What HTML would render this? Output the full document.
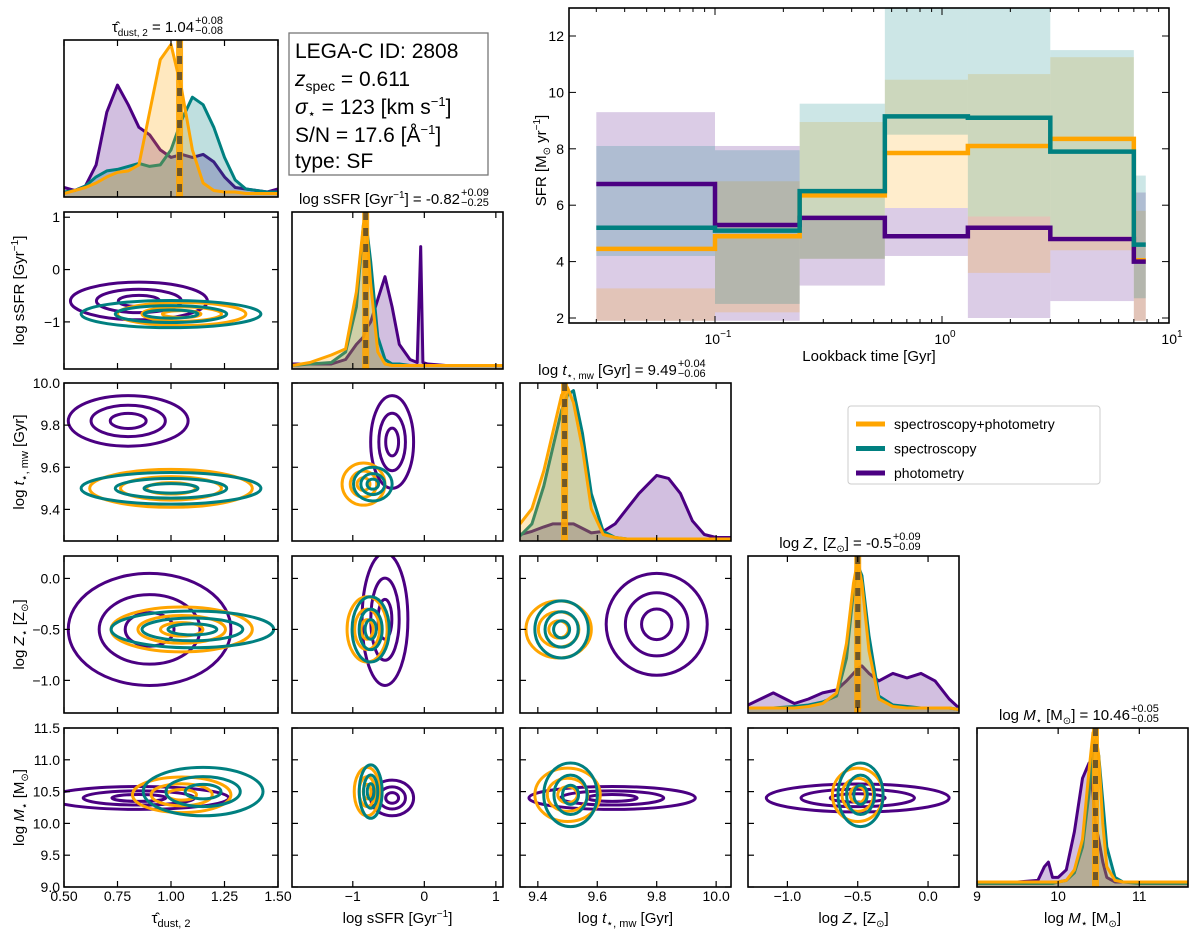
<!DOCTYPE html>
<html><head><meta charset="utf-8"><style>
body{margin:0;background:#fff;}
svg{display:block;font-family:"Liberation Sans",sans-serif;}
</style></head><body>
<svg id="fig" width="1200" height="936" viewBox="0 0 1200 936" xmlns="http://www.w3.org/2000/svg"></svg>
<script>
// ---------- data ----------
const seriesNames = ["spectroscopy+photometry","spectroscopy","photometry"];
const seriesColors = ["#FFA500","#008080","#4B0082"];
// SFH
const sfhEdges = [0.03,0.1,0.236,0.56,1.3,3.0,7.0,7.9];
const sfrOrange = [4.45,4.9,6.35,7.85,8.1,8.35,4.05];
const sfrTeal = [5.2,5.1,6.5,9.15,9.1,7.9,4.6];
const sfrPurple = [6.75,5.3,5.55,4.9,5.2,4.8,4.0];
const loOrange = [1.9,2.2,4.1,5.9,3.6,4.4,1.9];
const hiOrange = [3.05,6.85,8.95,10.45,10.65,11.25,5.8];
const loTeal = [4.2,2.5,4.1,8.5,5.6,4.9,2.7];
const hiTeal = [8.1,7.95,9.6,13,13,11.5,7.05];
const loPurple = [1.9,1.9,3.15,4.2,2.0,2.6,1.9];
const hiPurple = [9.3,8.1,5.6,5.9,5.6,4.8,6.45];
const sfrTicks = [2,4,6,8,10,12];
// marginal histograms
const tauX = [0.5,0.55,0.6,0.65,0.7,0.75,0.8,0.85,0.9,0.95,1.0,1.05,1.1,1.15,1.2,1.25,1.3,1.35,1.4,1.45,1.5];
const tauO = [0.01,0.03,0.05,0.08,0.12,0.15,0.16,0.2,0.55,0.9,1.0,0.7,0.3,0.08,0.03,0.02,0.02,0.01,0.01,0.01,0.01];
const tauT = [0.02,0.03,0.06,0.12,0.16,0.17,0.19,0.21,0.19,0.2,0.3,0.5,0.65,0.6,0.45,0.25,0.1,0.04,0.03,0.02,0.02];
const tauP = [0.05,0.03,0.06,0.2,0.55,0.73,0.6,0.45,0.4,0.3,0.25,0.27,0.25,0.27,0.22,0.12,0.05,0.04,0.03,0.02,0.04];
const ssfrX = [-1.85,-1.6,-1.3,-1.1,-0.95,-0.85,-0.82,-0.75,-0.65,-0.55,-0.45,-0.35,-0.2,-0.1,-0.05,-0.02,0.05,0.3,1.1];
const ssfrO = [0.01,0.03,0.08,0.12,0.5,0.95,1.0,0.55,0.1,0.02,0.01,0.01,0.01,0.01,0.01,0.01,0.01,0.01,0.01];
const ssfrT = [0.01,0.02,0.03,0.1,0.4,0.95,0.98,0.7,0.2,0.05,0.02,0.02,0.01,0.01,0.01,0.01,0.01,0.01,0.01];
const ssfrP = [0.02,0.02,0.02,0.05,0.15,0.2,0.25,0.3,0.45,0.6,0.4,0.15,0.05,0.03,0.8,0.03,0.02,0.01,0.01];
const ageX = [9.34,9.38,9.42,9.45,9.48,9.5,9.52,9.55,9.58,9.62,9.66,9.7,9.74,9.78,9.8,9.84,9.88,9.92,9.96,10.0,10.05];
const ageO = [0.1,0.2,0.45,0.7,0.95,1.0,0.9,0.6,0.2,0.03,0.01,0,0,0,0,0,0,0,0,0,0];
const ageT = [0.02,0.1,0.35,0.6,0.85,0.95,0.98,0.7,0.3,0.05,0.01,0,0,0,0,0,0,0,0,0,0];
const ageP = [0.03,0.05,0.08,0.1,0.1,0.1,0.1,0.07,0.04,0.05,0.1,0.2,0.3,0.38,0.42,0.4,0.3,0.12,0.03,0.01,0.01];
const zX = [-1.28,-1.1,-0.95,-0.85,-0.75,-0.65,-0.58,-0.53,-0.5,-0.47,-0.42,-0.35,-0.25,-0.15,-0.05,0.05,0.15,0.22];
const zO = [0.02,0.02,0.02,0.03,0.05,0.12,0.45,0.85,1.0,0.85,0.4,0.08,0.03,0.02,0.02,0.02,0.02,0.01];
const zT = [0.02,0.02,0.03,0.04,0.06,0.1,0.35,0.8,0.97,0.9,0.5,0.1,0.04,0.03,0.02,0.02,0.02,0.01];
const zP = [0.04,0.12,0.05,0.08,0.12,0.14,0.2,0.25,0.28,0.3,0.25,0.2,0.25,0.22,0.25,0.2,0.08,0.02];
const mX = [9,9.5,9.75,9.83,9.88,9.93,10.0,10.1,10.2,10.3,10.38,10.43,10.46,10.5,10.55,10.6,10.7,10.8,11,11.6];
const mO = [0.02,0.02,0.02,0.02,0.02,0.02,0.02,0.03,0.1,0.3,0.75,1.0,1.0,0.85,0.4,0.12,0.03,0.02,0.02,0.02];
const mT = [0.01,0.01,0.01,0.01,0.01,0.01,0.02,0.03,0.08,0.25,0.6,0.9,0.95,0.85,0.55,0.25,0.05,0.02,0.01,0.01];
const mP = [0.02,0.02,0.03,0.12,0.15,0.05,0.05,0.1,0.35,0.7,0.8,0.6,0.4,0.3,0.15,0.05,0.02,0.02,0.02,0.02];
const medians = [1.04,-0.82,9.49,-0.5,10.46];
// contour ellipses: [cx, cy, rx, ry] per series (orange, teal, purple)
const cSsfrTau = [[1.05,-0.85,0.3,0.22],[1.0,-0.85,0.42,0.26],[0.85,-0.6,0.32,0.36]];
const cAgeTau = [[1.0,9.5,0.38,0.09],[1.0,9.5,0.42,0.075],[0.8,9.82,0.28,0.12]];
const cAgeSsfr = [[-0.85,9.52,0.3,0.1],[-0.72,9.52,0.27,0.08],[-0.45,9.72,0.3,0.22]];
const cZTau = [[1.05,-0.5,0.33,0.22],[1.1,-0.5,0.38,0.18],[0.9,-0.5,0.38,0.55]];
const cZSsfr = [[-0.8,-0.5,0.28,0.32],[-0.75,-0.5,0.26,0.32],[-0.55,-0.4,0.32,0.65]];
const cZAge = [[9.47,-0.5,0.11,0.28],[9.48,-0.5,0.09,0.28],[9.8,-0.45,0.17,0.5]];
const cMTau = [[1.05,10.45,0.23,0.28],[1.15,10.5,0.28,0.38],[0.85,10.4,0.42,0.18]];
const cMSsfr = [[-0.8,10.5,0.18,0.38],[-0.75,10.5,0.16,0.42],[-0.45,10.4,0.3,0.28]];
const cMAge = [[9.5,10.45,0.11,0.42],[9.51,10.45,0.09,0.5],[9.65,10.4,0.28,0.18]];
const cMZ = [[-0.5,10.45,0.18,0.42],[-0.48,10.45,0.16,0.5],[-0.5,10.4,0.65,0.22]];

// ---------- drawing ----------
const NS="http://www.w3.org/2000/svg";
const svg=document.getElementById('fig');
function el(tag,attrs,parent){const e=document.createElementNS(NS,tag);for(const k in attrs)e.setAttribute(k,attrs[k]);(parent||svg).appendChild(e);return e;}
function txt(x,y,s,size,anchor,parent,extra){const t=el('text',Object.assign({x:x,y:y,'font-size':size,'text-anchor':anchor||'middle',fill:'#000'},extra||{}),parent);t.innerHTML=s;return t;}

const colX=[[64,278],[292,503],[520,731],[748,959],[977,1188]];
const rowY=[[40,197],[212,369],[383,541],[556,713],[728,887]];
const vars=[
 {range:[0.5,1.5],ticks:[0.5,0.75,1.0,1.25,1.5],lab:['0.50','0.75','1.00','1.25','1.50'],name:'τ̂<tspan font-size="11" dy="4">dust, 2</tspan>'},
 {range:[-1.85,1.1],ticks:[-1,0,1],lab:['−1','0','1'],name:'log sSFR [Gyr<tspan font-size="10" dy="-6">−1</tspan><tspan dy="6">]</tspan>'},
 {range:[9.34,10.05],ticks:[9.4,9.6,9.8,10.0],lab:['9.4','9.6','9.8','10.0'],name:'log <tspan font-style="italic">t</tspan><tspan font-size="11" dy="4">⋆, mw</tspan><tspan dy="-4"> [Gyr]</tspan>'},
 {range:[-1.28,0.22],ticks:[-1.0,-0.5,0.0],lab:['−1.0','−0.5','0.0'],name:'log <tspan font-style="italic">Z</tspan><tspan font-size="11" dy="4">⋆</tspan><tspan dy="-4"> [Z</tspan><tspan font-size="10" dy="4">⊙</tspan><tspan dy="-4">]</tspan>'},
 {range:[9.0,11.6],ticks:[9,10,11],lab:['9','10','11'],name:'log <tspan font-style="italic">M</tspan><tspan font-size="11" dy="4">⋆</tspan><tspan dy="-4"> [M</tspan><tspan font-size="10" dy="4">⊙</tspan><tspan dy="-4">]</tspan>'}
];
const yvars={1:{range:[-1.9,1.1],ticks:[-1,0,1],lab:['−1','0','1'],name:'log sSFR [Gyr<tspan font-size="10" dy="-6">−1</tspan><tspan dy="6">]</tspan>'},
 2:{range:[9.25,10.0],ticks:[9.4,9.6,9.8,10.0],lab:['9.4','9.6','9.8','10.0'],name:'log <tspan font-style="italic">t</tspan><tspan font-size="11" dy="4">⋆, mw</tspan><tspan dy="-4"> [Gyr]</tspan>'},
 3:{range:[-1.32,0.22],ticks:[-1.0,-0.5,0.0],lab:['−1.0','−0.5','0.0'],name:'log <tspan font-style="italic">Z</tspan><tspan font-size="11" dy="4">⋆</tspan><tspan dy="-4"> [Z</tspan><tspan font-size="10" dy="4">⊙</tspan><tspan dy="-4">]</tspan>'},
 4:{range:[9.0,11.5],ticks:[9.0,9.5,10.0,10.5,11.0,11.5],lab:['9.0','9.5','10.0','10.5','11.0','11.5'],name:'log <tspan font-style="italic">M</tspan><tspan font-size="11" dy="4">⋆</tspan><tspan dy="-4"> [M</tspan><tspan font-size="10" dy="4">⊙</tspan><tspan dy="-4">]</tspan>'}};
const hists=[[tauX,[tauO,tauT,tauP]],[ssfrX,[ssfrO,ssfrT,ssfrP]],[ageX,[ageO,ageT,ageP]],[zX,[zO,zT,zP]],[mX,[mO,mT,mP]]];
const contours={'1_0':cSsfrTau,'2_0':cAgeTau,'2_1':cAgeSsfr,'3_0':cZTau,'3_1':cZSsfr,'3_2':cZAge,'4_0':cMTau,'4_1':cMSsfr,'4_2':cMAge,'4_3':cMZ};
const titles=['τ̂<tspan font-size="10" dy="4">dust, 2</tspan><tspan dy="-4"> = 1.04</tspan>','log sSFR [Gyr<tspan font-size="10" dy="-6">−1</tspan><tspan dy="6">] = -0.82</tspan>','log <tspan font-style="italic">t</tspan><tspan font-size="10" dy="4">⋆, mw</tspan><tspan dy="-4"> [Gyr] = 9.49</tspan>','log <tspan font-style="italic">Z</tspan><tspan font-size="10" dy="4">⋆</tspan><tspan dy="-4"> [Z</tspan><tspan font-size="10" dy="4">⊙</tspan><tspan dy="-4">] = -0.5</tspan>','log <tspan font-style="italic">M</tspan><tspan font-size="10" dy="4">⋆</tspan><tspan dy="-4"> [M</tspan><tspan font-size="10" dy="4">⊙</tspan><tspan dy="-4">] = 10.46</tspan>'];
const errs=[['+0.08','−0.08'],['+0.09','−0.25'],['+0.04','−0.06'],['+0.09','−0.09'],['+0.05','−0.05']];

function scale(d0,d1,p0,p1){return v=>p0+(v-d0)/(d1-d0)*(p1-p0);}

for(let r=0;r<5;r++){for(let c=0;c<=r;c++){
  const [x0,x1]=colX[c],[y0,y1]=rowY[r];
  const g=el('g',{});
  
  
  const sx=scale(vars[c].range[0],vars[c].range[1],x0,x1);
  const cp=el('clipPath',{id:'cp'+r+c},g);
  el('rect',{x:x0,y:y0,width:x1-x0,height:y1-y0},cp);
  const inner=el('g',{'clip-path':'url(#cp'+r+c+')'},g);
  if(r===c){
    const [hx,ys]=hists[c];
    const sy=scale(0,1.03,y1-2,y0);
    [2,1,0].forEach(k=>{
      const pts=hx.map((x,i)=>sx(x).toFixed(1)+','+sy(ys[k][i]).toFixed(1));
      const a=el('polygon',{points:sx(hx[0])+','+(y1)+' '+pts.join(' ')+' '+sx(hx[hx.length-1])+','+y1,fill:seriesColors[k],'fill-opacity':0.25},inner);
      
      const l=el('polyline',{points:pts.join(' '),fill:'none',stroke:seriesColors[k],'stroke-width':3,'stroke-linejoin':'round'},inner);
      
    });
    const mx=sx(medians[c]);
    el('line',{x1:mx,x2:mx,y1:y0,y2:y1,stroke:'#FFA500','stroke-width':7,'stroke-opacity':0.9},inner);
    el('line',{x1:mx,x2:mx,y1:y0,y2:y1,stroke:'#333','stroke-width':5,'stroke-dasharray':'8,8','stroke-opacity':0.7},inner);
    const tx=(x0+x1)/2, ty=y0-8;
    const t=txt(tx-18,ty,titles[c],15,'middle',g);
    const bb=t.getBBox();
    txt(bb.x+bb.width+1,ty-8,errs[c][0],11,'start',g);
    txt(bb.x+bb.width+1,ty+2,errs[c][1],11,'start',g);
  } else {
    const yv=yvars[r];
    const sy=scale(yv.range[0],yv.range[1],y1,y0);
    const cs=contours[r+'_'+c];
    [2,0,1].forEach(k=>{
      const [cx,cy,rx,ry]=cs[k];
      [1,0.62,0.3].forEach((f,li)=>{
        const e=el('ellipse',{cx:sx(cx),cy:sy(cy),rx:Math.abs(sx(cx+rx*f)-sx(cx)),ry:Math.abs(sy(cy+ry*f)-sy(cy)),fill:'none',stroke:seriesColors[k],'stroke-width':3},inner);
        
      });
    });
    yv.ticks.forEach(v=>{const y=sy(v);el('line',{x1:x0,x2:x0+6,y1:y,y2:y,stroke:'#000','stroke-width':1.2},g);el('line',{x1:x1,x2:x1-6,y1:y,y2:y,stroke:'#000','stroke-width':1.2},g);});
    if(c===0){yv.ticks.forEach((v,i)=>txt(x0-4,sy(v)+5,yv.lab[i],14,'end',g));
      const yl=txt(0,0,yv.name,15,'middle',g);yl.setAttribute('transform','translate(24,'+((y0+y1)/2)+') rotate(-90)');}
  }
  vars[c].ticks.forEach(v=>{const x=sx(v);el('line',{x1:x,x2:x,y1:y1,y2:y1-6,stroke:'#000','stroke-width':1.2},g);el('line',{x1:x,x2:x,y1:y0,y2:y0+6,stroke:'#000','stroke-width':1.2},g);});
  if(r===4){vars[c].ticks.forEach((v,i)=>txt(sx(v),y1+14,vars[c].lab[i],14,'middle',g));txt((x0+x1)/2,y1+36,vars[c].name,15,'middle',g);}
  el('rect',{x:x0,y:y0,width:x1-x0,height:y1-y0,fill:'none',stroke:'#000','stroke-width':1.6},g);
}}

// info box
const ib=el('g',{});
el('rect',{x:289,y:33,width:199,height:142,fill:'#fff',stroke:'#777','stroke-width':1.3},ib);
txt(295,58,'LEGA-C ID: 2808',21,'start',ib);
txt(295,86,'<tspan font-style="italic">z</tspan><tspan font-size="14" dy="5">spec</tspan><tspan dy="-5"> = 0.611</tspan>',21,'start',ib);
txt(295,114,'<tspan font-style="italic">σ</tspan><tspan font-size="13" dy="4">⋆</tspan><tspan dy="-4"> = 123 [km s</tspan><tspan font-size="13" dy="-8">−1</tspan><tspan dy="8">]</tspan>',21,'start',ib);
txt(295,142,'S/N = 17.6 [Å<tspan font-size="13" dy="-8">−1</tspan><tspan dy="8">]</tspan>',21,'start',ib);
txt(295,168,'type: SF',21,'start',ib);

// SFH panel
const sp=el('g',{});
const PX0=569,PX1=1169,PY0=8,PY1=323;
const lx=v=>715+(Math.log10(v)+1)*227;
const syS=scale(2,12,318,36);
const cps=el('clipPath',{id:'cps'},sp);
el('rect',{x:PX0,y:PY0,width:PX1-PX0,height:PY1-PY0},cps);
const spi=el('g',{'clip-path':'url(#cps)'},sp);
const bands=[[loPurple,hiPurple,2],[loOrange,hiOrange,0],[loTeal,hiTeal,1]];
bands.forEach(([lo,hi,k])=>{for(let i=0;i<lo.length;i++){
  const b=el('rect',{x:lx(sfhEdges[i]),y:syS(hi[i]),width:lx(sfhEdges[i+1])-lx(sfhEdges[i]),height:syS(lo[i])-syS(hi[i]),fill:seriesColors[k],'fill-opacity':0.2},spi);
  }});
[[sfrOrange,0],[sfrPurple,2],[sfrTeal,1]].forEach(([v,k])=>{
  let d='';for(let i=0;i<v.length;i++){d+=(i?'L':'M')+lx(sfhEdges[i])+','+syS(v[i])+'L'+lx(sfhEdges[i+1])+','+syS(v[i]);}
  const p=el('path',{d:d,fill:'none',stroke:seriesColors[k],'stroke-width':4.5},spi);
  });
sfrTicks.forEach(v=>{const y=syS(v);el('line',{x1:PX0,x2:PX0+7,y1:y,y2:y,stroke:'#000'},sp);el('line',{x1:PX1,x2:PX1-7,y1:y,y2:y,stroke:'#000'},sp);txt(PX0-5,y+5,String(v),14,'end',sp);});
for(let e=-2;e<=0;e++){for(let m=1;m<10;m++){const v=m*Math.pow(10,e);const x=lx(v);if(x<PX0||x>PX1)continue;const L=m===1?7:4;
  el('line',{x1:x,x2:x,y1:PY1,y2:PY1-L,stroke:'#000'},sp);el('line',{x1:x,x2:x,y1:PY0,y2:PY0+L,stroke:'#000'},sp);}}
el('line',{x1:lx(10),x2:lx(10),y1:PY1,y2:PY1-7,stroke:'#000'},sp);
[[-1,'10<tspan font-size="10" dy="-7">−1</tspan>'],[0,'10<tspan font-size="10" dy="-7">0</tspan>'],[1,'10<tspan font-size="10" dy="-7">1</tspan>']].forEach(([e,s])=>txt(lx(Math.pow(10,e))+3,PY1+21,s,14,'middle',sp));
txt((PX0+PX1)/2,PY1+38,'Lookback time [Gyr]',15,'middle',sp);
const yl=txt(0,0,'SFR [M<tspan font-size="10" dy="4">⊙</tspan><tspan dy="-4"> yr</tspan><tspan font-size="10" dy="-6">−1</tspan><tspan dy="6">]</tspan>',15,'middle',sp);
yl.setAttribute('transform','translate(546,'+((PY0+PY1)/2-5)+') rotate(-90)');
el('rect',{x:PX0,y:PY0,width:PX1-PX0,height:PY1-PY0,fill:'none',stroke:'#000','stroke-width':1.6},sp);

// legend
const lg=el('g',{});
el('rect',{x:848,y:406,width:252,height:78,rx:3,fill:'#fff',stroke:'#ccc'},lg);
seriesNames.forEach((n,i)=>{const y=424+i*24.5;
  const it=el('g',{},lg);
  el('line',{x1:856,x2:885,y1:y,y2:y,stroke:seriesColors[i],'stroke-width':5},it);
  txt(894,y+5,n,14,'start',it);});
</script>
</body></html>
